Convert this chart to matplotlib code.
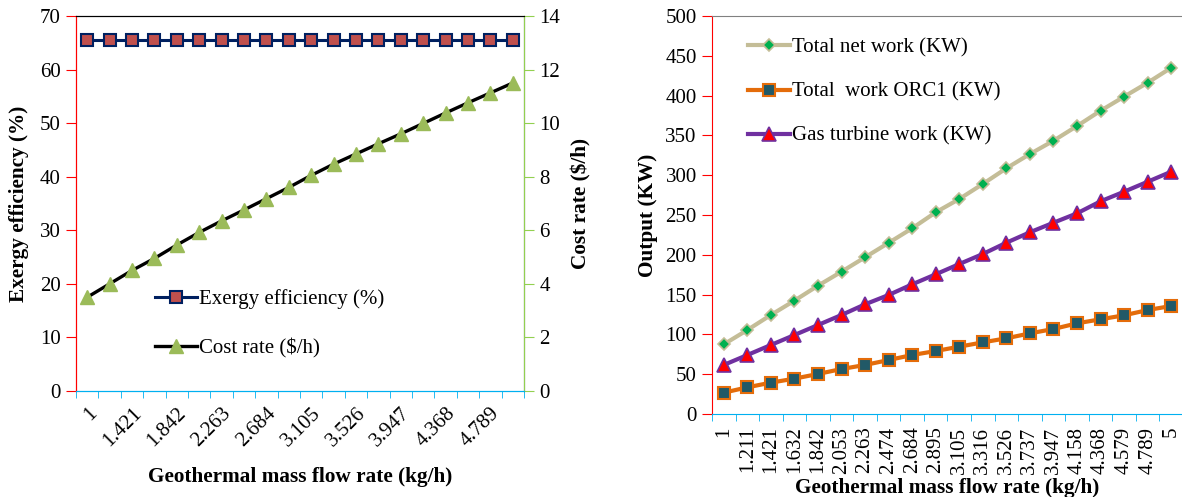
import matplotlib
matplotlib.use("Agg")
import matplotlib.pyplot as plt
import numpy as np

plt.rcParams['font.family'] = ['Liberation Serif', 'DejaVu Serif']

# ---------------- data ----------------
flow_labels = ["1", "1.211", "1.421", "1.632", "1.842", "2.053", "2.263", "2.474",
               "2.684", "2.895", "3.105", "3.316", "3.526", "3.737", "3.947",
               "4.158", "4.368", "4.579", "4.789", "5"]
exergy_eff = [65.5] * 20
cost_rate = [3.5, 4.0, 4.5, 4.95, 5.45, 5.92, 6.35, 6.76, 7.18, 7.6,
             8.05, 8.47, 8.85, 9.23, 9.6, 9.99, 10.38, 10.76, 11.13, 11.5]
net_work = [87.5, 105.5, 124.4, 142.4, 161.2, 178.8, 196.9, 215.0, 233.3, 253.4,
            270.1, 289.0, 308.7, 326.6, 343.3, 361.8, 381.0, 398.7, 416.2, 435.0]
orc1_work = [26.8, 33.5, 39.4, 44.4, 50.3, 56.5, 61.6, 67.8, 74.1, 79.1,
             84.6, 90.0, 95.1, 101.3, 106.8, 113.9, 119.0, 124.0, 130.6, 135.7]
gt_work = [61.6, 74.1, 86.7, 99.2, 111.8, 124.4, 137.8, 149.5, 162.9, 175.5,
           188.4, 201.0, 215.2, 228.3, 240.3, 252.1, 267.2, 279.3, 291.8, 304.4]

W, H = 1182, 497
fig = plt.figure(figsize=(W / 100, H / 100), dpi=100)

FS = 15
LFS = 15.3
RED = '#FF0000'
BLUE = '#00B0F0'
GREEN = '#92D050'
x = np.arange(len(flow_labels))

# ---------------- left chart ----------------
axL = fig.add_axes([76 / W, 1 - 391 / H, 448 / W, 375 / H])
axR = axL.twinx()

l1, = axL.plot(x, exergy_eff, color='#002060', lw=2.2, marker='s', ms=8.5,
               mfc='#C0504D', mec='#002060', mew=1.5, label='Exergy efficiency (%)')
l2, = axR.plot(x, cost_rate, color='black', lw=2.4, marker='^', ms=10,
               mfc='#9BBB59', mec='#9BBB59', mew=1, label='Cost rate ($/h)')

axL.set_xlim(-0.5, 19.5)
axL.set_ylim(0, 70)
axR.set_ylim(0, 14)
axL.set_yticks(np.arange(0, 71, 10))
axR.set_yticks(np.arange(0, 15, 2))

axL.set_xticks(x[::2])
axL.set_xticklabels([flow_labels[i] for i in range(0, 20, 2)],
                    rotation=45, ha='right', rotation_mode='anchor', fontsize=FS)
axL.set_xticks(np.arange(-0.5, 20, 1), minor=True)
axL.tick_params(axis='x', which='major', length=0, pad=9)
axL.tick_params(axis='x', which='minor', length=5, color=BLUE, direction='out')
axL.tick_params(axis='y', length=7, color=RED, direction='out', labelsize=FS, pad=4)
axR.tick_params(axis='y', length=7, color=GREEN, direction='out', labelsize=FS, pad=4)

axL.spines['left'].set_color(RED)
axL.spines['bottom'].set_color(BLUE)
axL.spines['top'].set_color('black')
axR.spines['right'].set_color(GREEN)
axR.spines['left'].set_color(RED)
axR.spines['bottom'].set_color(BLUE)
axR.spines['top'].set_color('black')

axL.set_ylabel('Exergy efficiency (%)', fontsize=LFS, fontweight='bold')
axL.yaxis.set_label_coords(-0.105, 0.5)
axR.set_ylabel('Cost rate ($/h)', fontsize=LFS, fontweight='bold')
axR.yaxis.set_label_coords(1.105, 0.5)
axL.set_xlabel('Geothermal mass flow rate (kg/h)', fontsize=LFS, fontweight='bold')
axL.xaxis.set_label_coords(0.5, -0.203)

axR.legend(handles=[l1, l2], loc='center left',
           bbox_to_anchor=(155 / W, 1 - 324 / H), bbox_transform=fig.transFigure,
           frameon=False, fontsize=FS, handlelength=2.0, handletextpad=0.1,
           labelspacing=1.4, borderpad=0, borderaxespad=0, numpoints=1)

# ---------------- right chart ----------------
ax2 = fig.add_axes([712 / W, 1 - 414 / H, 471 / W, 398 / H])
h1, = ax2.plot(x, net_work, color='#C4BD97', lw=3, marker='D', ms=6.5,
               mfc='#00B050', mec='#C4BD97', mew=1.2, label='Total net work (KW)')
h2, = ax2.plot(x, orc1_work, color='#E46C0A', lw=3, marker='s', ms=9,
               mfc='#215967', mec='#E46C0A', mew=1.5, label='Total  work ORC1 (KW)')
h3, = ax2.plot(x, gt_work, color='#7030A0', lw=3, marker='^', ms=10,
               mfc='#FF0000', mec='#7030A0', mew=1.2, label='Gas turbine work (KW)')

ax2.set_xlim(-0.5, 19.5)
ax2.set_ylim(0, 500)
ax2.set_yticks(np.arange(0, 501, 50))
ax2.set_xticks(x)
ax2.set_xticklabels(flow_labels, rotation=90, ha='center', va='top', fontsize=FS)
ax2.set_xticks(np.arange(-0.5, 20, 1), minor=True)
ax2.tick_params(axis='x', which='major', length=0, pad=9)
ax2.tick_params(axis='x', which='minor', length=5, color=BLUE, direction='out')
ax2.tick_params(axis='y', length=7, color=RED, direction='out', labelsize=FS, pad=4)
ax2.spines['left'].set_color(RED)
ax2.spines['bottom'].set_color(BLUE)
ax2.spines['top'].set_color('#808080')
ax2.spines['right'].set_visible(False)

ax2.set_ylabel('Output (KW)', fontsize=LFS, fontweight='bold')
ax2.yaxis.set_label_coords(-0.115, 0.5)
ax2.set_xlabel('Geothermal mass flow rate (kg/h)', fontsize=LFS, fontweight='bold')
ax2.xaxis.set_label_coords(0.5, -0.16)

ax2.legend(handles=[h1, h2, h3], loc='center left',
           bbox_to_anchor=(748 / W, 1 - 92 / H), bbox_transform=fig.transFigure,
           frameon=False, fontsize=FS, handlelength=2.0, handletextpad=0.1,
           labelspacing=1.18, borderpad=0, borderaxespad=0, numpoints=1)

fig.savefig('out.png', dpi=100)
